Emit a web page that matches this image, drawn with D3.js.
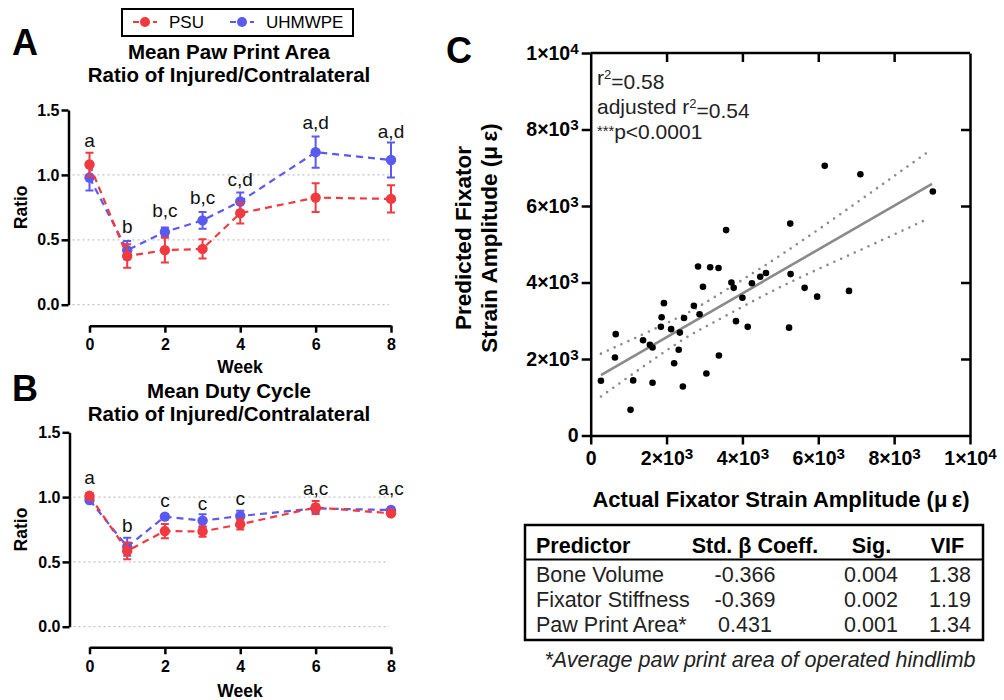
<!DOCTYPE html>
<html>
<head>
<meta charset="utf-8">
<script src="https://cdn.jsdelivr.net/npm/d3@7"></script>
<style>
  body { margin: 0; background: #fff; }
  text { font-family: Arial, "Liberation Sans", sans-serif; }
</style>
</head>
<body>
<svg id="fig" width="1004" height="700"></svg>
<script>
// ---- panel A / B data (ratio injured / contralateral) ----
const weeks = [0, 1, 2, 3, 4, 6, 8];
const weekTicks = [0, 2, 4, 6, 8];
const ratioTicks = [0, 0.5, 1.0, 1.5];

const pawPSU = [1.08, 0.375, 0.42, 0.43, 0.705, 0.825, 0.815];
const pawPSUErr = [0.09, 0.09, 0.095, 0.075, 0.08, 0.11, 0.105];
const pawUHM = [0.98, 0.42, 0.56, 0.65, 0.795, 1.175, 1.115];
const pawUHMErr = [0.10, 0.07, 0.035, 0.065, 0.07, 0.12, 0.135];
const pawLetters = ["a", "b", "b,c", "b,c", "c,d", "a,d", "a,d"];
const pawLetterY = [1.215, 0.552, 0.678, 0.776, 0.917, 1.354, 1.287];

const dutyPSU = [1.01, 0.585, 0.738, 0.735, 0.79, 0.92, 0.875];
const dutyPSUErr = [0.02, 0.065, 0.055, 0.04, 0.04, 0.05, 0.02];
const dutyUHM = [0.978, 0.617, 0.849, 0.818, 0.854, 0.913, 0.9];
const dutyUHMErr = [0.015, 0.07, 0.02, 0.05, 0.04, 0.03, 0.02];
const dutyLetters = ["a", "b", "c", "c", "c", "a,c", "a,c"];
const dutyLetterY = [1.101, 0.733, 0.921, 0.900, 0.939, 1.016, 1.016];

// ---- panel C data (strain amplitude, microstrain) ----
const actualStrain = [270, 660, 640, 1050, 1120, 1380, 1560, 1630, 1630, 1930, 1870, 1850,
  2120, 2350, 2320, 2200, 2430, 2460, 2720, 2870, 3050, 3380, 3830, 4140, 4000, 5230,
  6170, 7110, 9020, 3570, 5260, 2830, 3150, 3370, 2960, 3710, 3770, 4250, 4470, 4620,
  5270, 5640, 5970, 6810];
const predictedStrain = [1430, 2650, 2040, 670, 1440, 2490, 2370, 2300, 1380, 3460, 3090, 2840,
  2780, 2690, 2240, 1890, 1280, 3070, 3390, 3170, 1620, 2090, 2990, 2840, 3600, 2820,
  7050, 6830, 6380, 5370, 5540, 4420, 4400, 4380, 3890, 4000, 3860, 3980, 4150, 4250,
  4220, 3860, 3630, 3780];
const fitX = [270, 9000];
const fitY = [1580, 6580];
const bandX = [270, 2220, 3300, 5000, 7000, 8900];
const bandUpper = [2140, 3040, 3640, 4710, 6080, 7420];
const bandLower = [1020, 2370, 2990, 3880, 4800, 5670];
const strainTicks = [0, 2000, 4000, 6000, 8000, 10000];

// ---- regression table ----
const tableHeader = ["Predictor", "Std. \u03b2 Coeff.", "Sig.", "VIF"];
const predictors = ["Bone Volume", "Fixator Stiffness", "Paw Print Area*"];
const betaCoeff = ["-0.366", "-0.369", "0.431"];
const sigValues = ["0.004", "0.002", "0.001"];
const vifValues = ["1.38", "1.19", "1.34"];

const RED = "#f03a40", BLUE = "#5a5af0";
const svg = d3.select("#fig");

// legend
const leg = svg.append("g");
leg.append("rect").attr("x", 122).attr("y", 9).attr("width", 231).attr("height", 27)
  .attr("fill", "none").attr("stroke", "#000").attr("stroke-width", 2);
[[RED, "PSU", 133], [BLUE, "UHMWPE", 230]].forEach(([c, name, x0]) => {
  leg.append("line").attr("x1", x0).attr("x2", x0 + 24).attr("y1", 22).attr("y2", 22)
    .attr("stroke", c).attr("stroke-width", 2).attr("stroke-dasharray", "6,4");
  leg.append("circle").attr("cx", x0 + 12).attr("cy", 22).attr("r", 5).attr("fill", c);
  leg.append("text").attr("x", x0 + 36).attr("y", 28).attr("font-size", 17).text(name);
});

const x = d3.scaleLinear().domain([0, 8]).range([89.5, 391]);

function styleAxis(g, size) {
  g.select(".domain").attr("stroke", "#000").attr("stroke-width", 2.5);
  g.selectAll(".tick line").attr("stroke", "#000").attr("stroke-width", 2.5);
  g.selectAll(".tick text").attr("font-size", size).attr("font-weight", "bold")
    .attr("fill", "#000").attr("font-family", "Arial, 'Liberation Sans', sans-serif");
}

function ratioPanel(o) {
  const g = svg.append("g");
  const y = d3.scaleLinear().domain([0, 1.5]).range([o.y0, o.y15]);

  g.append("text").attr("x", 12).attr("y", o.letterBase).attr("font-size", 36)
    .attr("font-weight", "bold").text(o.letter);
  o.title.forEach((t, i) => g.append("text").attr("x", 229).attr("y", o.titleBase + i * 23)
    .attr("text-anchor", "middle").attr("font-size", 20.5).attr("font-weight", "bold").text(t));

  g.selectAll(".grid").data(ratioTicks.filter(d => d < 1.5)).join("line")
    .attr("x1", o.axisX + 4).attr("x2", x(8) - 2).attr("y1", y).attr("y2", y)
    .attr("stroke", "#c2c2c2").attr("stroke-width", 1.3).attr("stroke-dasharray", "2,3");

  const ya = g.append("g").attr("transform", `translate(${o.axisX},0)`)
    .call(d3.axisLeft(y).tickValues(ratioTicks).tickFormat(d3.format(".1f"))
      .tickSize(7).tickSizeOuter(0).tickPadding(2));
  styleAxis(ya, 16);
  const xa = g.append("g").attr("transform", `translate(0,${o.xAxisY})`)
    .call(d3.axisBottom(x).tickValues(weekTicks).tickSize(7).tickSizeOuter(0).tickPadding(6));
  styleAxis(xa, 16);

  g.append("text").attr("transform", `translate(27,${(o.y0 + o.y15) / 2}) rotate(-90)`)
    .attr("text-anchor", "middle").attr("font-size", 17.5).attr("font-weight", "bold").text("Ratio");
  g.append("text").attr("x", 240).attr("y", o.weekBase).attr("text-anchor", "middle")
    .attr("font-size", 17.5).attr("font-weight", "bold").text("Week");

  const line = d3.line().x((d, i) => x(weeks[i])).y(d => y(d));
  [[o.uhm, o.uhmErr, BLUE], [o.psu, o.psuErr, RED]].forEach(([vals, errs, c]) => {
    const s = g.append("g");
    s.append("path").datum(vals).attr("d", line).attr("fill", "none")
      .attr("stroke", c).attr("stroke-width", 2.2).attr("stroke-dasharray", "7,5");
    vals.forEach((v, i) => {
      const cx = x(weeks[i]);
      s.append("path")
        .attr("d", `M${cx},${y(v - errs[i])}V${y(v + errs[i])}M${cx - 4},${y(v - errs[i])}h8M${cx - 4},${y(v + errs[i])}h8`)
        .attr("stroke", c).attr("stroke-width", 2).attr("fill", "none");
    });
    s.selectAll("circle").data(vals).join("circle")
      .attr("cx", (d, i) => x(weeks[i])).attr("cy", d => y(d)).attr("r", 5.2).attr("fill", c);
  });

  g.selectAll(".sig").data(o.letters).join("text")
    .attr("x", (d, i) => x(weeks[i])).attr("y", (d, i) => y(o.letterY[i]))
    .attr("text-anchor", "middle").attr("font-size", 19).attr("fill", "#111").text(d => d);
}

ratioPanel({
  letter: "A", letterBase: 55, title: ["Mean Paw Print Area", "Ratio of Injured/Contralateral"],
  titleBase: 59, y0: 304.7, y15: 110, axisX: 68.5, xAxisY: 325.7, weekBase: 373,
  psu: pawPSU, psuErr: pawPSUErr, uhm: pawUHM, uhmErr: pawUHMErr,
  letters: pawLetters, letterY: pawLetterY
});
ratioPanel({
  letter: "B", letterBase: 401, title: ["Mean Duty Cycle", "Ratio of Injured/Contralateral"],
  titleBase: 398, y0: 626.7, y15: 432.3, axisX: 69.5, xAxisY: 647.3, weekBase: 697,
  psu: dutyPSU, psuErr: dutyPSUErr, uhm: dutyUHM, uhmErr: dutyUHMErr,
  letters: dutyLetters, letterY: dutyLetterY
});

// ---- panel C ----
const gc = svg.append("g");
const sx = d3.scaleLinear().domain([0, 10000]).range([590.7, 970]);
const sy = d3.scaleLinear().domain([0, 10000]).range([435.5, 53]);

gc.append("text").attr("x", 446).attr("y", 63).attr("font-size", 36)
  .attr("font-weight", "bold").text("C");

function sciLabels(g) {
  g.selectAll(".tick text").each(function (d) {
    const t = d3.select(this).text(null);
    if (d === 0) { t.text("0"); return; }
    const e = Math.floor(Math.log10(d) + 1e-9);
    t.append("tspan").text(Math.round(d / Math.pow(10, e)) + "\u00d710");
    t.append("tspan").attr("dy", "-0.4em").attr("font-size", "0.78em").text(e);
  });
}

const yl = gc.append("g").attr("transform", `translate(${sx(0)},0)`)
  .call(d3.axisLeft(sy).tickValues(strainTicks).tickSize(9).tickSizeOuter(0).tickPadding(3));
styleAxis(yl, 19.5); sciLabels(yl);
const xb = gc.append("g").attr("transform", `translate(0,${sy(0)})`)
  .call(d3.axisBottom(sx).tickValues(strainTicks).tickSize(9).tickSizeOuter(0).tickPadding(7));
styleAxis(xb, 19.5); sciLabels(xb);
const xt = gc.append("g").attr("transform", `translate(0,${sy(10000)})`)
  .call(d3.axisTop(sx).tickValues(strainTicks.slice(1, -1)).tickSize(-9).tickSizeOuter(0).tickFormat(""));
styleAxis(xt, 18);
xt.select(".domain").attr("d", `M${sx(0)},0H${sx(10000)}`);
const yr = gc.append("g").attr("transform", `translate(${sx(10000)},0)`)
  .call(d3.axisRight(sy).tickValues(strainTicks.slice(1, -1)).tickSize(-9).tickSizeOuter(0).tickFormat(""));
styleAxis(yr, 18);

gc.append("text").attr("transform", `translate(471,238) rotate(-90)`).attr("text-anchor", "middle")
  .attr("font-size", 22.5).attr("font-weight", "bold").text("Predicted Fixator");
gc.append("text").attr("transform", `translate(497,238) rotate(-90)`).attr("text-anchor", "middle")
  .attr("font-size", 22.5).attr("font-weight", "bold").text("Strain Amplitude (\u03bc\u2009\u03b5)");
gc.append("text").attr("x", 781).attr("y", 507).attr("text-anchor", "middle")
  .attr("font-size", 22).attr("font-weight", "bold").text("Actual Fixator Strain Amplitude (\u03bc\u2009\u03b5)");

// stats text
const st = gc.append("g").attr("font-size", 21).attr("fill", "#222");
const s1 = st.append("text").attr("x", 597).attr("y", 85);
s1.append("tspan").text("r"); s1.append("tspan").attr("dy", "-0.45em").attr("font-size", "0.62em").text("2");
s1.append("tspan").attr("dy", "0.45em").text("=0.58");
const s2 = st.append("text").attr("x", 597).attr("y", 114);
s2.append("tspan").text("adjusted r"); s2.append("tspan").attr("dy", "-0.45em").attr("font-size", "0.62em").text("2");
s2.append("tspan").attr("dy", "0.45em").text("=0.54");
const s3 = st.append("text").attr("x", 597).attr("y", 138);
s3.append("tspan").attr("font-size", "0.7em").attr("dy", "-0.15em").text("***");
s3.append("tspan").attr("dy", "0.15em").text("p<0.0001");

// fit line and confidence band
const bandLine = d3.line().curve(d3.curveNatural).x((d, i) => sx(bandX[i])).y(d => sy(d));
[bandUpper, bandLower].forEach(b => gc.append("path").datum(b).attr("d", bandLine)
  .attr("fill", "none").attr("stroke", "#8a8a8a").attr("stroke-width", 2.6)
  .attr("stroke-linecap", "round").attr("stroke-dasharray", "0,7.5"));
gc.append("path").datum(fitY).attr("d", d3.line().x((d, i) => sx(fitX[i])).y(d => sy(d)))
  .attr("stroke", "#8a8a8a").attr("stroke-width", 2.6).attr("fill", "none");
gc.selectAll(".pt").data(actualStrain).join("circle")
  .attr("cx", d => sx(d)).attr("cy", (d, i) => sy(predictedStrain[i])).attr("r", 3.3).attr("fill", "#000");

// ---- table ----
const tb = svg.append("g").attr("font-size", 21.5);
tb.append("rect").attr("x", 525).attr("y", 525).attr("width", 458).attr("height", 115)
  .attr("fill", "none").attr("stroke", "#000").attr("stroke-width", 2.5);
tb.append("line").attr("x1", 525).attr("x2", 983).attr("y1", 559.5).attr("y2", 559.5)
  .attr("stroke", "#000").attr("stroke-width", 2);
const headX = [536, 755, 871.5, 947.5];
tableHeader.forEach((h, i) => tb.append("text").attr("x", headX[i]).attr("y", 553)
  .attr("text-anchor", i === 0 ? "start" : "middle").attr("font-weight", "bold").text(h));
const rowY = d3.scalePoint().domain(predictors).range([581.5, 631.5]);
predictors.forEach((p, i) => {
  const yy = rowY(p);
  tb.append("text").attr("x", 536).attr("y", yy).attr("fill", "#222").text(p);
  tb.append("text").attr("x", 745).attr("y", yy).attr("text-anchor", "middle").attr("fill", "#222").text(betaCoeff[i]);
  tb.append("text").attr("x", 871).attr("y", yy).attr("text-anchor", "middle").attr("fill", "#222").text(sigValues[i]);
  tb.append("text").attr("x", 950).attr("y", yy).attr("text-anchor", "middle").attr("fill", "#222").text(vifValues[i]);
});
svg.append("text").attr("x", 760).attr("y", 667).attr("text-anchor", "middle")
  .attr("font-size", 21.5).attr("font-style", "italic").attr("fill", "#222")
  .text("*Average paw print area of operated hindlimb");
</script>
</body>
</html>
